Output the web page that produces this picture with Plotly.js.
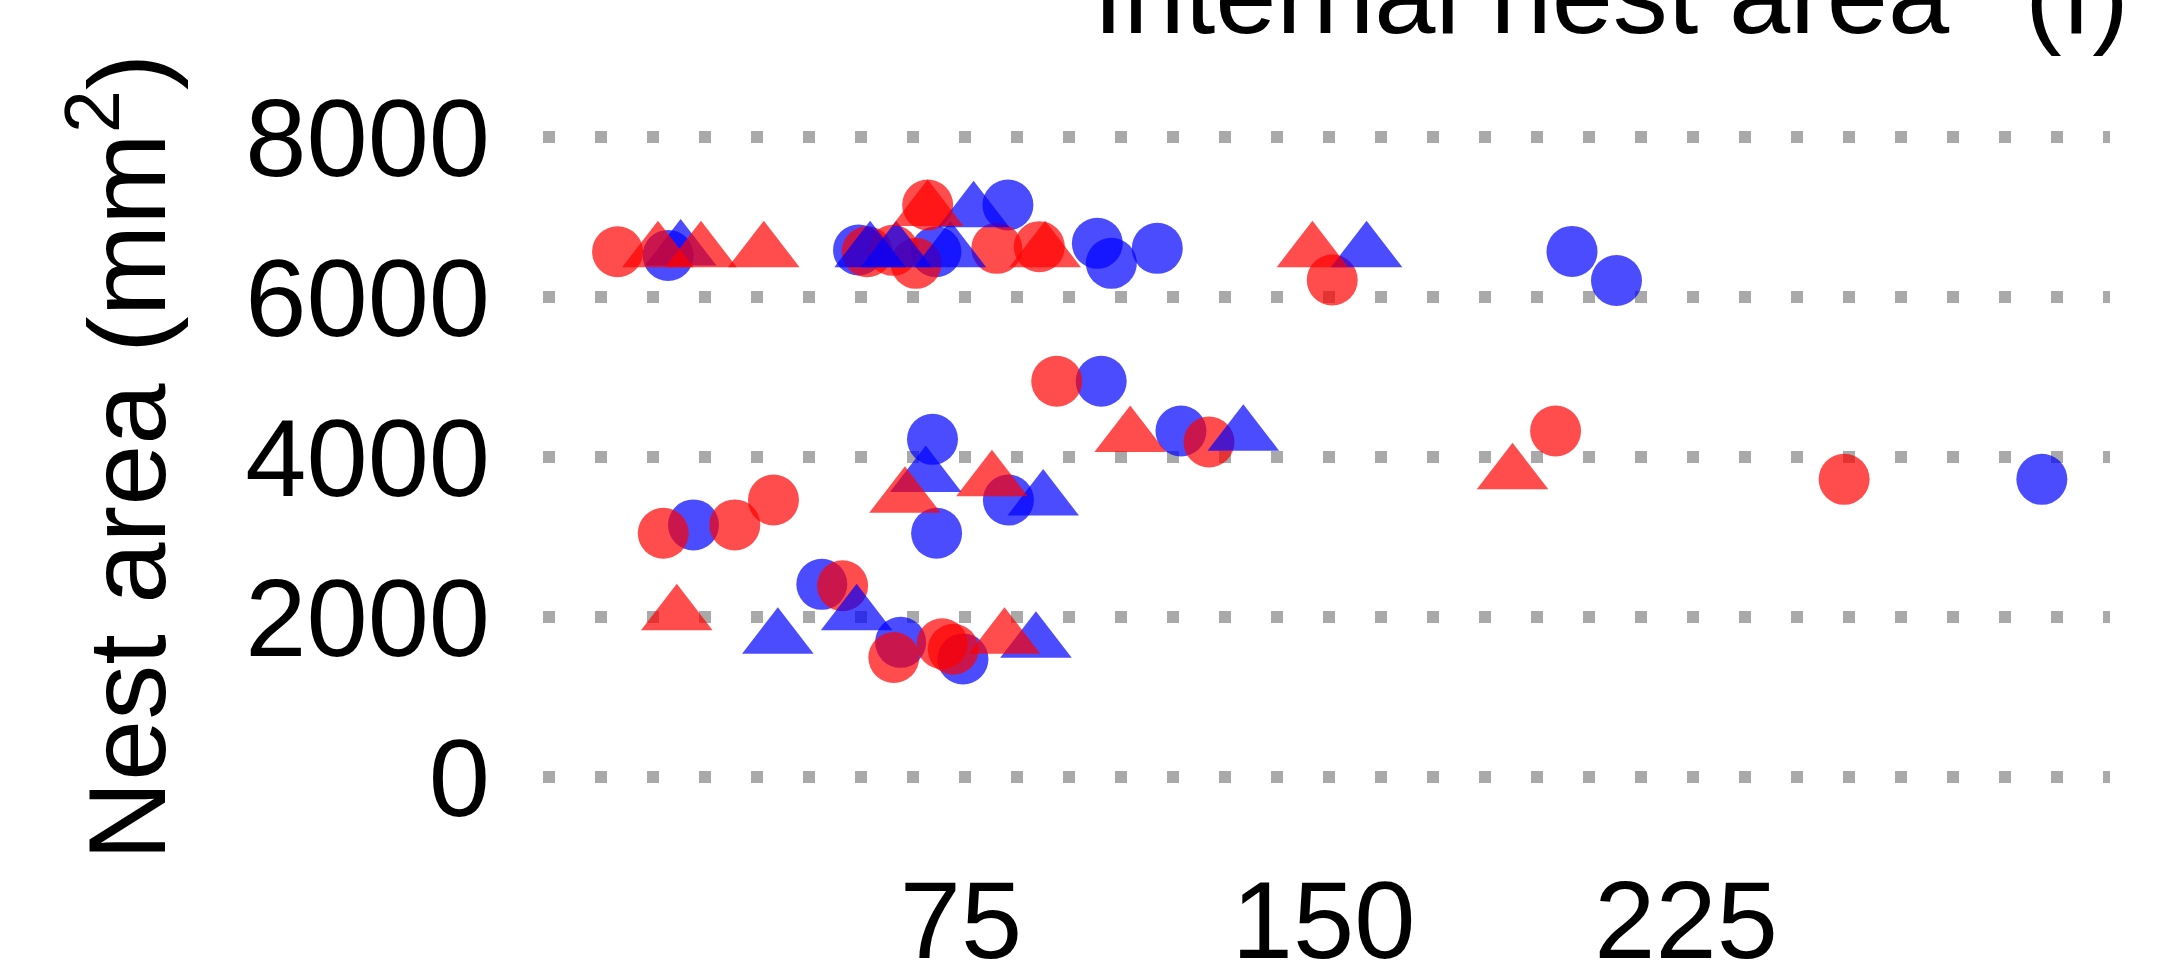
<!DOCTYPE html>
<html>
<head>
<meta charset="utf-8">
<script src="https://cdn.plot.ly/plotly-3.0.1.min.js"></script>
<style>html,body{margin:0;padding:0;background:#fff;}#chart{width:2166px;height:960px;}</style>
</head>
<body>
<div id="chart"></div>
<script>
// ---- data ----
const redCircleX = [3.95, 55.6, 60.9, 65.7, 68.1, 82.4, 91.2, 151.8, 94.8, 126.3, 198.0, 257.7, 13.4, 28.2, 36.2, 50.5, 61.1, 71.1, 73.4];
const redCircleY = [6566, 6566, 6583, 6421, 7150, 6608, 6629, 6212, 4947, 4187, 4325, 3721, 3047, 3151, 3462, 2391, 1493, 1666, 1597];

const redTriX = [12.3, 21.2, 34.2, 68.1, 92.4, 147.7, 110.0, 189.1, 63.4, 81.4, 16.2, 84.0];
const redTriY = [6566, 6566, 6566, 7080, 6566, 6566, 4256, 3790, 3496, 3703, 2028, 1735];

const blueCircleX = [14.4, 53.8, 84.7, 69.8, 103.2, 106.1, 115.6, 201.4, 210.6, 104.0, 120.5, 298.6, 69.1, 69.95, 84.8, 19.65, 46.2, 62.5, 75.4];
const blueCircleY = [6520, 6587, 7150, 6566, 6671, 6421, 6608, 6570, 6207, 4947, 4325, 3721, 4221, 3047, 3462, 3151, 2408, 1683, 1476];

const blueTriX = [17.0, 56.2, 61.6, 77.6, 72.8, 158.9, 133.4, 67.7, 92.0, 53.4, 37.1, 90.5];
const blueTriY = [6587, 6566, 6566, 7066, 6566, 6566, 4273, 3755, 3462, 2028, 1735, 1683];

const xTickVals = [75, 150, 225];
const xTickText = ['75', '150', '225'];
const yTickVals = [0, 2000, 4000, 6000, 8000];
const yTickText = ['0', '2000', '4000', '6000', '8000'];

const titleText = 'Internal nest area';
const panelTag = '(f)';
const yTitle = 'Nest area (mm<sup>2</sup>)';

// ---- styling ----
const FONT = 'Liberation Sans, Arial, sans-serif';
const RED = '#FF0000', BLUE = '#0000FF';
const OP = 0.7;

function tr(x, y, color, symbol, size) {
  return {
    type: 'scatter', mode: 'markers', x: x, y: y, hoverinfo: 'skip', cliponaxis: false,
    marker: {color: color, symbol: symbol, size: size, opacity: OP, line: {width: 0}}
  };
}

const data = [
  tr(blueCircleX, blueCircleY, BLUE, 'circle', 51),
  tr(redCircleX, redCircleY, RED, 'circle', 51),
  tr(blueTriX, blueTriY, BLUE, 'triangle-up', 62),
  tr(redTriX, redTriY, RED, 'triangle-up', 62)
];

const layout = {
  width: 2166, height: 960,
  margin: {l: 543, r: 56, t: 97, b: 143, pad: 0},
  paper_bgcolor: '#fff', plot_bgcolor: '#fff',
  showlegend: false,
  font: {family: FONT, size: 110, color: '#000'},
  xaxis: {
    range: [-11.48, 312.7], tickvals: xTickVals, ticktext: xTickText,
    showgrid: false, zeroline: false, showline: false, ticks: '',
    ticklabelstandoff: 30,
    tickfont: {family: FONT, size: 110, color: '#000'}
  },
  yaxis: {
    range: [-500, 8500], tickvals: yTickVals, ticktext: yTickText,
    showgrid: true, gridcolor: '#A9A9A9', gridwidth: 12, griddash: '12px,40px',
    zeroline: false, showline: false, ticks: '',
    ticklabelstandoff: 52,
    tickfont: {family: FONT, size: 110, color: '#000'},
    title: {text: yTitle, standoff: 42, font: {family: FONT, size: 110, color: '#000'}}
  },
  shapes: xTickVals.map(v => ({
    type: 'line', xref: 'x', yref: 'paper', x0: v, x1: v, y0: 0, y1: 1,
    line: {color: '#ffffff', width: 9}, layer: 'between'
  })),
  annotations: [
    {text: titleText, xref: 'paper', yref: 'paper', x: 0.3497, y: 1.0541,
     xanchor: 'left', yanchor: 'bottom', showarrow: false,
     font: {family: FONT, size: 110, color: '#000'}},
    {text: panelTag, xref: 'paper', yref: 'paper', x: 0.9445, y: 1.0541,
     xanchor: 'left', yanchor: 'bottom', showarrow: false,
     font: {family: FONT, size: 110, color: '#000'}}
  ]
};

Plotly.newPlot('chart', data, layout, {displayModeBar: false, staticPlot: true});
</script>
</body>
</html>
